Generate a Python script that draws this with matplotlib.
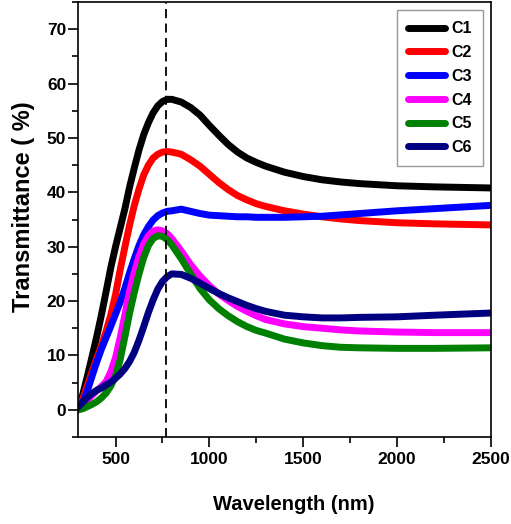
import matplotlib
matplotlib.use("Agg")
import matplotlib.pyplot as plt
from matplotlib.ticker import MultipleLocator

# wavelength grid (nm) and transmittance (%)
wavelength = [300, 325, 350, 375, 400, 425, 450, 475, 500, 525, 550, 575, 600,
              625, 650, 675, 700, 725, 750, 775, 800, 850, 900, 950, 1000,
              1050, 1100, 1150, 1200, 1250, 1300, 1400, 1500, 1600, 1700, 1800,
              2000, 2200, 2500]

c1 = [0, 2.8, 6.2, 9.8, 13.5, 17.5, 21.8, 26.2, 30, 33.5, 37, 41, 44.5,
      47.8, 50.6, 52.8, 54.6, 55.9, 56.7, 57.1, 57.1, 56.6, 55.6, 54.2, 52.3,
      50.5, 48.8, 47.4, 46.3, 45.5, 44.8, 43.7, 42.9, 42.3, 41.9, 41.6,
      41.2, 41.0, 40.8]
c2 = [0.3, 2, 4.5, 7, 9.5, 11.8, 14.5, 17.5, 21.2, 25.8, 30, 34, 37.6,
      40.6, 43.2, 45, 46.3, 47, 47.4, 47.5, 47.4, 47, 46, 44.8, 43.3,
      41.8, 40.5, 39.4, 38.6, 37.9, 37.4, 36.6, 36, 35.5, 35.1, 34.8,
      34.4, 34.2, 34.0]
c3 = [0.5, 1.3, 3.5, 6.2, 8.8, 11.2, 13.3, 15.4, 17.6, 19.8, 22.4, 25.2, 27.8,
      30.2, 32.2, 33.7, 34.9, 35.7, 36.2, 36.5, 36.6, 36.9, 36.5, 36.1, 35.8,
      35.7, 35.6, 35.5, 35.5, 35.4, 35.4, 35.4, 35.5, 35.6, 35.85, 36.1,
      36.6, 37, 37.6]
c4 = [0, 0.8, 1.8, 2.7, 3.5, 4.3, 5.2, 7, 9.6, 13.3, 17.5, 21.8, 25.3,
      28.2, 30.5, 32, 32.9, 33.1, 32.9, 32.4, 31.5, 29.2, 26.7, 24.6, 22.8,
      21.3, 20.1, 19, 18.1, 17.3, 16.6, 15.8, 15.3, 15, 14.7, 14.5,
      14.3, 14.2, 14.2]
c5 = [0, 0.2, 0.6, 1, 1.5, 2.2, 3.1, 4.4, 6.2, 9.3, 13.5, 17.8, 21.6,
      25, 28, 30.2, 31.5, 32, 31.9, 31.3, 30.3, 27.8, 25, 22.3, 20.2,
      18.6, 17.3, 16.2, 15.3, 14.6, 14.1, 13, 12.3, 11.8, 11.5, 11.4,
      11.3, 11.3, 11.4]
c6 = [0.5, 1.4, 2.3, 3, 3.6, 4, 4.6, 5.1, 5.8, 6.6, 7.6, 8.9, 10.6,
      12.8, 15.3, 17.9, 20.2, 22.2, 23.6, 24.5, 25, 24.9, 24.2, 23.3, 22.3,
      21.4, 20.6, 19.9, 19.2, 18.6, 18.1, 17.4, 17.1, 16.9, 16.9, 17.0,
      17.1, 17.4, 17.8]

labels = ["C1", "C2", "C3", "C4", "C5", "C6"]
colors = ["#000000", "#ff0000", "#0000ff", "#ff00ff", "#008000", "#000080"]
peak_line = 770

plt.rcParams["font.family"] = ["Liberation Sans", "DejaVu Sans"]
plt.rcParams["font.weight"] = "bold"

fig = plt.figure(figsize=(5.11, 5.24), dpi=100)
ax = fig.add_axes([78 / 511, 1 - 437 / 524, 413 / 511, 435 / 524])

for series, lab, col in zip([c1, c2, c3, c4, c5, c6], labels, colors):
    ax.plot(wavelength, series, color=col, lw=5, label=lab,
            solid_capstyle="round", solid_joinstyle="round")

ax.axvline(peak_line, color="black", lw=1.3, ls=(0, (5, 3)), zorder=10)

ax.set_xlim(300, 2500)
ax.set_ylim(-5, 75)
ax.xaxis.set_major_locator(MultipleLocator(500))
ax.xaxis.set_minor_locator(MultipleLocator(250))
ax.yaxis.set_minor_locator(MultipleLocator(5))
ax.set_yticks(range(0, 71, 10))

ax.tick_params(which="both", direction="out", width=1.2, top=False, right=False)
ax.tick_params(which="major", length=7, labelsize=12.5)
ax.tick_params(axis="x", which="major", pad=4)
ax.tick_params(axis="y", which="major", pad=1.5)
ax.tick_params(which="minor", length=4)
for lbl in ax.get_xticklabels() + ax.get_yticklabels():
    lbl.set_fontweight("bold")
for sp in ax.spines.values():
    sp.set_linewidth(1.2)

ax.set_xlabel("Wavelength (nm)", fontsize=14.5, fontweight="bold")
ax.xaxis.set_label_coords((294 - 78) / 413, -0.133)
ax.set_ylabel("Transmittance ( %)", fontsize=17, fontweight="bold")
ax.yaxis.set_label_coords(-0.105, 0.53)

leg = ax.legend(loc="upper right", fontsize=11.5, frameon=True, fancybox=False,
                edgecolor="#808080", handlelength=2.3, handletextpad=0.4,
                labelspacing=0.55, borderaxespad=0.5, borderpad=0.7)
leg.get_frame().set_linewidth(1.0)
for t in leg.get_texts():
    t.set_fontweight("bold")
for h in leg.get_lines():
    h.set_linewidth(5)

fig.savefig("out.png", dpi=100)
